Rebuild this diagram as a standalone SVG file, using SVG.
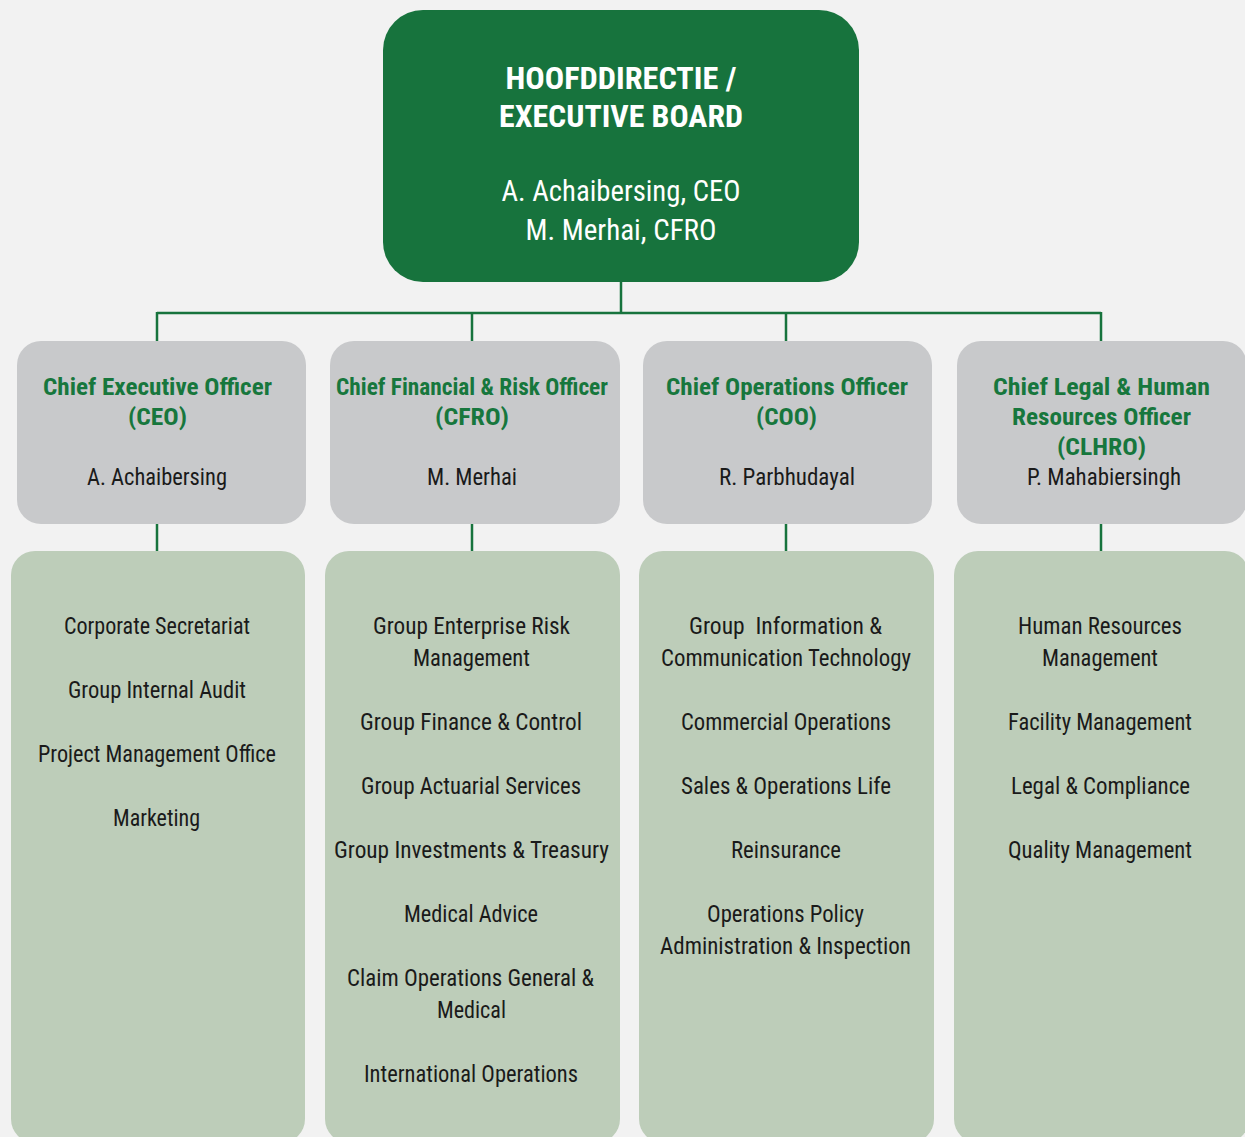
<svg xmlns="http://www.w3.org/2000/svg" width="1245" height="1137" viewBox="0 0 1245 1137">
<style>
.t{font-family:"Liberation Sans Narrow","Roboto Condensed","DejaVu Sans Condensed","Liberation Sans",sans-serif;text-anchor:middle}
.hd{font-size:31px;font-weight:bold;fill:#ffffff}
.hn{font-size:30px;fill:#ffffff}
.ti{font-size:24px;font-weight:bold;fill:#17773d}
.nm{font-size:24px;fill:#1a1a1a}
.li{font-size:24px;fill:#1a1a1a}
.gray{fill:#c8c9cb}
.lg{fill:#bdcdb9}
.conn{stroke:#17733d;stroke-width:2.5;fill:none}
</style>
<rect x="0" y="0" width="1245" height="1137" fill="#f2f2f2"/>
<g id="connectors">
<path class="conn" d="M621,282 V313 M157,313 H1101 M157,312 V341 M472,312 V341 M786,312 V341 M1101,312 V341"/>
<path class="conn" d="M157,523 V551 M472,523 V551 M786,523 V551 M1101,523 V551"/>
</g>
<g id="board">
<rect x="383" y="10" width="476" height="272" rx="40" fill="#17733d"/>
<text class="t hd" x="621" y="89" textLength="231" lengthAdjust="spacingAndGlyphs">HOOFDDIRECTIE /</text>
<text class="t hd" x="621" y="127" textLength="244" lengthAdjust="spacingAndGlyphs">EXECUTIVE BOARD</text>
<text class="t hn" x="621" y="201" textLength="239" lengthAdjust="spacingAndGlyphs">A. Achaibersing, CEO</text>
<text class="t hn" x="621" y="240" textLength="191" lengthAdjust="spacingAndGlyphs">M. Merhai, CFRO</text>
</g>
<g id="ceo">
<rect class="gray" x="17" y="341" width="289" height="183" rx="24"/>
<text class="t ti" x="157.5" y="395" textLength="229" lengthAdjust="spacingAndGlyphs">Chief Executive Officer</text>
<text class="t ti" x="157.5" y="425" textLength="59" lengthAdjust="spacingAndGlyphs">(CEO)</text>
<text class="t nm" x="157" y="485" textLength="140" lengthAdjust="spacingAndGlyphs">A. Achaibersing</text>
</g>
<g id="cfro">
<rect class="gray" x="330" y="341" width="290" height="183" rx="24"/>
<text class="t ti" x="472" y="395" textLength="272" lengthAdjust="spacingAndGlyphs">Chief Financial &amp; Risk Officer</text>
<text class="t ti" x="472" y="425" textLength="74" lengthAdjust="spacingAndGlyphs">(CFRO)</text>
<text class="t nm" x="472" y="485" textLength="90" lengthAdjust="spacingAndGlyphs">M. Merhai</text>
</g>
<g id="coo">
<rect class="gray" x="643" y="341" width="289" height="183" rx="24"/>
<text class="t ti" x="787" y="395" textLength="242" lengthAdjust="spacingAndGlyphs">Chief Operations Officer</text>
<text class="t ti" x="786.5" y="425" textLength="61" lengthAdjust="spacingAndGlyphs">(COO)</text>
<text class="t nm" x="787" y="485" textLength="136" lengthAdjust="spacingAndGlyphs">R. Parbhudayal</text>
</g>
<g id="clhro">
<rect class="gray" x="957" y="341" width="290" height="183" rx="24"/>
<text class="t ti" x="1101.5" y="395" textLength="217" lengthAdjust="spacingAndGlyphs">Chief Legal &amp; Human</text>
<text class="t ti" x="1101.5" y="425" textLength="179" lengthAdjust="spacingAndGlyphs">Resources Officer</text>
<text class="t ti" x="1101.5" y="455" textLength="89" lengthAdjust="spacingAndGlyphs">(CLHRO)</text>
<text class="t nm" x="1104" y="485" textLength="154" lengthAdjust="spacingAndGlyphs">P. Mahabiersingh</text>
</g>
<g id="ceo-units">
<rect class="lg" x="11" y="551" width="294" height="592" rx="24"/>
<text class="t li" x="157" y="634" textLength="186" lengthAdjust="spacingAndGlyphs">Corporate Secretariat</text>
<text class="t li" x="157" y="698" textLength="178" lengthAdjust="spacingAndGlyphs">Group Internal Audit</text>
<text class="t li" x="157" y="762" textLength="238" lengthAdjust="spacingAndGlyphs">Project Management Office</text>
<text class="t li" x="156.5" y="826" textLength="87" lengthAdjust="spacingAndGlyphs">Marketing</text>
</g>
<g id="cfro-units">
<rect class="lg" x="325" y="551" width="295" height="592" rx="24"/>
<text class="t li" x="471.5" y="634" textLength="197" lengthAdjust="spacingAndGlyphs">Group Enterprise Risk</text>
<text class="t li" x="471.5" y="666" textLength="117" lengthAdjust="spacingAndGlyphs">Management</text>
<text class="t li" x="471" y="730" textLength="222" lengthAdjust="spacingAndGlyphs">Group Finance &amp; Control</text>
<text class="t li" x="471" y="794" textLength="220" lengthAdjust="spacingAndGlyphs">Group Actuarial Services</text>
<text class="t li" x="471.5" y="858" textLength="275" lengthAdjust="spacingAndGlyphs">Group Investments &amp; Treasury</text>
<text class="t li" x="471" y="922" textLength="134" lengthAdjust="spacingAndGlyphs">Medical Advice</text>
<text class="t li" x="470.5" y="986" textLength="247" lengthAdjust="spacingAndGlyphs">Claim Operations General &amp;</text>
<text class="t li" x="471.5" y="1018" textLength="69" lengthAdjust="spacingAndGlyphs">Medical</text>
<text class="t li" x="471" y="1082" textLength="214" lengthAdjust="spacingAndGlyphs">International Operations</text>
</g>
<g id="coo-units">
<rect class="lg" x="639" y="551" width="295" height="592" rx="24"/>
<text class="t li" x="785.5" y="634" textLength="193" lengthAdjust="spacingAndGlyphs" xml:space="preserve">Group  Information &amp;</text>
<text class="t li" x="786" y="666" textLength="250" lengthAdjust="spacingAndGlyphs">Communication Technology</text>
<text class="t li" x="786" y="730" textLength="210" lengthAdjust="spacingAndGlyphs">Commercial Operations</text>
<text class="t li" x="786" y="794" textLength="210" lengthAdjust="spacingAndGlyphs">Sales &amp; Operations Life</text>
<text class="t li" x="786" y="858" textLength="110" lengthAdjust="spacingAndGlyphs">Reinsurance</text>
<text class="t li" x="785.5" y="922" textLength="157" lengthAdjust="spacingAndGlyphs">Operations Policy</text>
<text class="t li" x="785.5" y="954" textLength="251" lengthAdjust="spacingAndGlyphs">Administration &amp; Inspection</text>
</g>
<g id="clhro-units">
<rect class="lg" x="954" y="551" width="295" height="592" rx="24"/>
<text class="t li" x="1100" y="634" textLength="164" lengthAdjust="spacingAndGlyphs">Human Resources</text>
<text class="t li" x="1100" y="666" textLength="116" lengthAdjust="spacingAndGlyphs">Management</text>
<text class="t li" x="1100" y="730" textLength="184" lengthAdjust="spacingAndGlyphs">Facility Management</text>
<text class="t li" x="1100.5" y="794" textLength="179" lengthAdjust="spacingAndGlyphs">Legal &amp; Compliance</text>
<text class="t li" x="1100" y="858" textLength="184" lengthAdjust="spacingAndGlyphs">Quality Management</text>
</g>
</svg>
